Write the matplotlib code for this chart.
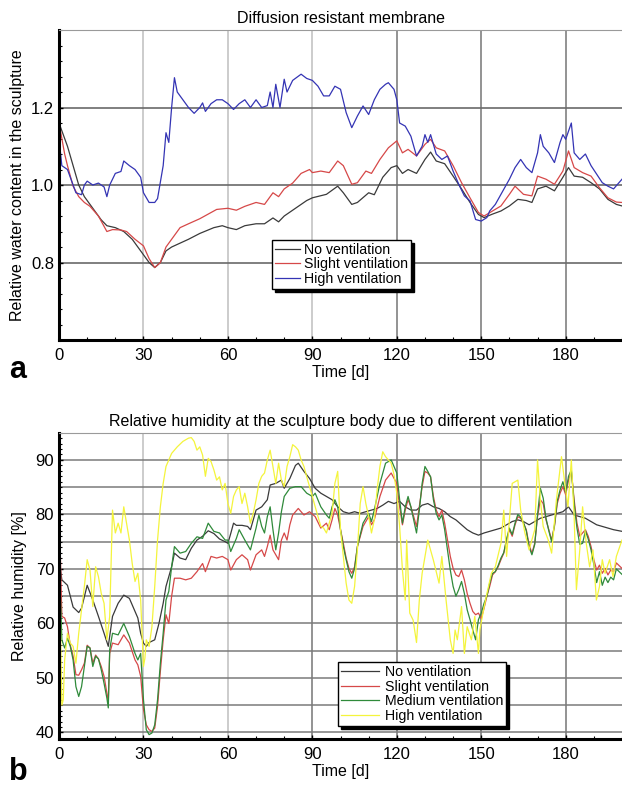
import numpy as np
import matplotlib
matplotlib.use('Agg')
import matplotlib.pyplot as plt
from matplotlib.ticker import MultipleLocator

plt.rcParams['font.family'] = ['Liberation Sans', 'DejaVu Sans']

# ---------------- panel a: relative water content ----------------
a_no_days = [0, 1.5, 3, 5, 7, 9, 12, 15, 17, 20, 23, 26, 29, 32, 34, 36, 38, 40, 43, 46, 50, 55, 58,
             60, 63, 66, 70, 73, 76, 78, 80, 83, 86, 88, 90, 95, 99, 101, 104, 106, 110, 112, 115,
             118, 120, 122, 124, 127, 130, 132, 134, 137, 140, 143, 146, 149, 151, 154, 157, 160,
             163, 166, 168, 170, 173, 176, 179, 181, 183, 186, 189, 192, 195, 198, 200]
a_no_vals = [1.16, 1.13, 1.10, 1.05, 1.00, 0.97, 0.94, 0.91, 0.895, 0.89, 0.88, 0.86, 0.83, 0.80,
             0.787, 0.80, 0.83, 0.84, 0.85, 0.86, 0.875, 0.89, 0.895, 0.89, 0.885, 0.895, 0.90,
             0.90, 0.915, 0.905, 0.92, 0.935, 0.95, 0.96, 0.967, 0.976, 0.997, 0.98, 0.95, 0.955,
             0.98, 0.975, 1.02, 1.045, 1.05, 1.03, 1.04, 1.03, 1.066, 1.085, 1.062, 1.055, 1.023,
             0.99, 0.955, 0.924, 0.916, 0.925, 0.933, 0.946, 0.963, 0.96, 0.955, 0.99, 0.997,
             0.985, 1.02, 1.045, 1.023, 1.02, 1.006, 0.99, 0.963, 0.95, 0.946]

a_slight_days = [0, 2, 3, 5, 7, 9, 11, 14, 17, 19, 22, 24, 27, 30, 32, 34, 36, 38, 40, 43, 46, 50,
                 53, 56, 60, 63, 66, 70, 73, 76, 78, 80, 83, 86, 89, 90, 93, 96, 99, 101, 104, 106,
                 109, 111, 114, 117, 120, 122, 124, 127, 130, 132, 134, 137, 140, 143, 146, 149,
                 151, 154, 157, 160, 162, 165, 168, 170, 173, 176, 179, 181, 183, 186, 189, 192,
                 195, 198, 200]
a_slight_vals = [1.16, 1.08, 1.05, 0.997, 0.97, 0.955, 0.945, 0.92, 0.88, 0.885, 0.884, 0.88, 0.86,
                 0.843, 0.81, 0.787, 0.80, 0.84, 0.86, 0.89, 0.90, 0.913, 0.925, 0.937, 0.94,
                 0.935, 0.945, 0.955, 0.95, 0.98, 0.97, 0.99, 1.005, 1.03, 1.04, 1.032, 1.036,
                 1.032, 1.062, 1.05, 1.002, 1.006, 1.036, 1.03, 1.066, 1.096, 1.114, 1.083, 1.092,
                 1.075, 1.105, 1.118, 1.096, 1.088, 1.05, 1.006, 0.967, 0.929, 0.92, 0.933, 0.946,
                 0.976, 0.997, 0.976, 0.972, 1.023, 1.015, 1.002, 1.036, 1.088, 1.045, 1.032,
                 1.023, 0.993, 0.967, 0.956, 0.955]

a_high_days = [0, 1, 3, 4, 6, 8, 9, 10, 12, 14, 16, 17, 18, 20, 22, 23, 25, 27, 29, 30, 32, 34, 35,
               37, 38, 39, 40, 41, 42, 44, 46, 48, 50, 51, 52, 54, 56, 58, 60, 62, 64, 66, 68, 70,
               72, 74, 75, 76, 77, 78.5, 80, 81, 83, 86, 88, 90, 92, 94, 96, 98, 100, 102, 104,
               106, 108, 110, 112, 114, 116, 117, 119, 120, 121, 123, 125, 127, 129, 130, 131,
               132, 134, 136, 138, 140, 142, 144, 146, 148, 150, 152, 153, 155, 157, 159, 160,
               162, 164, 166, 168, 170, 171, 172, 174, 176, 178, 179, 180, 182, 183, 185, 187,
               189, 191, 193, 195, 197, 200]
a_high_vals = [1.12, 1.05, 1.04, 1.02, 0.98, 0.975, 1.0, 1.01, 1.0, 1.005, 0.995, 0.97, 1.0, 1.03,
               1.035, 1.062, 1.05, 1.04, 1.02, 0.98, 0.955, 0.955, 0.965, 1.05, 1.135, 1.11, 1.2,
               1.277, 1.24, 1.22, 1.2, 1.185, 1.2, 1.212, 1.19, 1.21, 1.22, 1.22, 1.21, 1.195,
               1.21, 1.22, 1.2, 1.22, 1.2, 1.205, 1.24, 1.2, 1.26, 1.2, 1.273, 1.24, 1.27, 1.286,
               1.275, 1.27, 1.255, 1.23, 1.23, 1.255, 1.247, 1.187, 1.148, 1.178, 1.204, 1.182,
               1.22, 1.247, 1.26, 1.264, 1.247, 1.22, 1.16, 1.152, 1.126, 1.075, 1.1, 1.13, 1.11,
               1.13, 1.08, 1.066, 1.075, 1.036, 1.002, 0.972, 0.959, 0.911, 0.907, 0.916, 0.933,
               0.95, 0.976, 1.002, 1.015, 1.045, 1.066, 1.045, 1.032, 1.083, 1.13, 1.1, 1.083,
               1.058, 1.11, 1.13, 1.118, 1.16, 1.083, 1.066, 1.08, 1.05, 1.028, 1.006, 0.997,
               0.99, 1.015]

# ---------------- panel b: relative humidity ----------------
b_no_days = [0, 0.5, 1, 3, 5, 7, 8, 10, 12, 14, 16, 17.5, 19, 21, 23, 25, 27, 28, 29, 30, 31, 32,
             34, 35.5, 37, 38, 40, 41, 43, 45, 47, 49, 51, 53, 55, 57, 59, 60, 61, 62, 63, 65, 67,
             68, 70, 72, 74, 75, 77, 79, 80, 82, 84, 85, 87, 89, 91, 93, 95, 97, 99, 101, 103,
             105, 107, 109, 111, 113, 115, 117, 119, 121, 123, 125, 127, 129, 131, 133, 135, 137,
             139, 141, 143, 145, 147, 149, 151, 153, 155, 157, 159, 161, 163, 165, 167, 169, 171,
             173, 175, 177, 179, 181, 183, 185, 187, 189, 191, 193, 195, 197, 200]
b_no_vals = [75, 70, 68, 67, 63, 62, 62.8, 67, 64.3, 61.3, 58.2, 55.8, 61.3, 63.7, 65.2, 64.6, 62.2,
             61, 58.2, 56.4, 55.8, 56.5, 57, 60, 63.7, 66.8, 70.4, 72.9, 72, 71.7, 73.8, 75.3, 76,
             77, 76.5, 75.5, 75, 74.7, 76.5, 78.4, 78, 78, 77.8, 77.2, 80.8, 81.4, 82.7, 85.4,
             85.7, 86.3, 84.8, 86.6, 89, 89.4, 87.9, 86.6, 84.8, 83.9, 83.3, 82.7, 81.4, 80.5,
             80.2, 80.5, 80.2, 80.5, 80.8, 81.1, 81.7, 82.4, 82, 82.4, 81.4, 80.8, 80.8, 81.7, 82,
             81.4, 81.1, 80.5, 79.6, 79, 78.1, 77.2, 76.6, 76.2, 76.6, 76.9, 77.2, 77.5, 78.1,
             78.7, 79, 78.7, 78.1, 78.7, 79.3, 79.6, 79.9, 80.2, 80.5, 81.4, 79.9, 79.6, 79.3,
             78.7, 78.1, 77.8, 77.5, 77.2, 76.9]

b_slight_days = [0, 0.5, 1, 2, 3, 4, 5, 6, 7, 8, 9, 10, 11, 12, 13, 14, 15, 16, 17, 17.5, 18, 19, 21,
                 23, 25, 27, 28, 29, 30, 31, 32, 33, 34, 35, 36, 37, 38, 39, 40, 41, 43, 45, 47, 49,
                 51, 52, 54, 56, 58, 60, 61, 63, 65, 67, 68, 70, 72, 73, 74, 75, 76, 78, 79, 80, 81,
                 82, 83, 85, 87, 89, 91, 93, 95, 96, 97, 98, 99, 100, 101, 102, 103, 104, 105, 106,
                 108, 110, 111, 112, 114, 116, 118, 120, 121, 122, 123, 124, 125, 126, 127, 128,
                 129, 130, 131, 132, 133, 134, 135, 136, 137, 138, 139, 140, 141, 142, 143, 144,
                 145, 146, 147, 148, 149, 150, 151, 152, 153, 154, 155, 156, 157, 158, 159, 160,
                 161, 162, 163, 164, 165, 166, 167, 168, 169, 170, 171, 172, 173, 174, 175, 176,
                 177, 178, 179, 180, 181, 182, 183, 184, 185, 186, 187, 188, 189, 190, 191, 192,
                 193, 194, 195, 196, 197, 198, 200]
b_slight_vals = [77, 72, 61.3, 61, 59.4, 56, 54, 50.6, 50.5, 51.5, 52.7, 56, 55.5, 52.7, 54.2,
                 53.5, 52.1, 50.3, 47.2, 45.7, 54.5, 56.4, 56.1, 57.9, 56.4, 53.3, 52.4, 50.3,
                 44.2, 41.4, 40.5, 40.2, 40.8, 44.8, 51.2, 57, 61.6, 60, 65, 68.3, 68.3, 68, 68.3,
                 69.5, 71, 69.5, 72.3, 72, 72.3, 71.7, 69.8, 71.7, 72.6, 71.7, 69.8, 72.6, 73.5,
                 72.3, 74.1, 76.2, 73.5, 71.7, 75.3, 76.6, 75.3, 78.1, 79.9, 81.1, 79.9, 80.5,
                 79.6, 77.5, 78.4, 77.2, 79, 81.1, 79.9, 77.2, 74.7, 72, 70.1, 69.2, 70.4, 74.1,
                 77.8, 79.6, 78.1, 79, 83.3, 86.3, 87.6, 85.7, 81.4, 78.1, 80.8, 82.7, 81.4, 79.6,
                 77.8, 81.4, 85.1, 87.9, 87.6, 86.9, 83.3, 80.8, 79.6, 80.8, 78.4, 75.3, 72.3,
                 70.1, 68.9, 68.6, 69.8, 68, 65.5, 63.7, 62.2, 61.6, 61.9, 60.9, 62.8, 65, 66.8,
                 68.9, 69.5, 70.4, 71.7, 72.9, 75.3, 77.2, 76, 78.1, 79.6, 79.3, 78.4, 77.2, 74.4,
                 72.9, 74.7, 79.6, 82.7, 82, 79, 77.2, 75.3, 77.8, 82, 83.9, 85.1, 83.6, 86.3,
                 87.9, 82.7, 78.4, 76, 76.6, 77.2, 76, 74.1, 71.7, 69.8, 70.7, 69.2, 70.1, 68.9,
                 69.8, 69.5, 71.1, 70.1]

b_medium_days = [0, 0.5, 1, 2, 3, 4, 5, 6, 7, 8, 9, 10, 11, 12, 13, 14, 15, 16, 17, 17.5, 18, 19, 21,
                 23, 25, 27, 28, 29, 30, 31, 32, 33, 34, 35, 36, 37, 38, 39, 40, 41, 43, 45, 47, 49,
                 51, 53, 55, 57, 59, 60, 61, 63, 64, 66, 68, 70, 71, 72, 73, 74, 75, 76, 77, 78, 79,
                 80, 82, 84, 86, 88, 90, 91, 93, 95, 96, 97, 98, 99, 100, 101, 102, 103, 104, 105,
                 106, 108, 110, 111, 112, 114, 116, 118, 120, 121, 122, 123, 124, 125, 126, 127,
                 128, 129, 130, 131, 132, 133, 134, 135, 136, 137, 138, 139, 140, 141, 142, 143,
                 144, 145, 146, 147, 148, 149, 150, 151, 152, 153, 154, 155, 156, 157, 158, 159,
                 160, 161, 162, 163, 164, 165, 166, 167, 168, 169, 170, 171, 172, 173, 174, 175,
                 176, 177, 178, 179, 180, 181, 182, 183, 184, 185, 186, 187, 188, 189, 190, 191,
                 192, 193, 194, 195, 196, 197, 198, 200]
b_medium_vals = [75, 65, 57, 55.5, 57.3, 55.8, 53.3, 48.4, 46.6, 48.4, 52.1, 55.8, 55.5, 52.1, 54,
                 53.5, 51.5, 49, 46.3, 44.5, 55.2, 58.2, 57.9, 60, 57.6, 54.5, 53.3, 54.5, 46, 40.5,
                 39.6, 39.9, 41.4, 46, 52.7, 58.2, 64.3, 65.9, 70.4, 74.1, 72.9, 73.2, 74.7, 75.9,
                 75.6, 78.4, 76.9, 76.6, 75.3, 75.3, 73.2, 75.6, 77.2, 75.3, 73.5, 77.5, 79.9,
                 77.8, 76.6, 79.6, 81.4, 77.2, 73.5, 76.6, 80.5, 83.3, 84.8, 85.1, 85.1, 83.9,
                 83.3, 83.9, 81.4, 79.9, 79.3, 81.4, 82.7, 81.4, 77.2, 74.1, 71.7, 69.5, 68.3,
                 70.1, 74.1, 78.4, 80.2, 78.7, 80.8, 85.7, 89.4, 90, 87.6, 82.7, 78.4, 81.4, 83.3,
                 81.4, 79, 76.6, 80.8, 85.7, 88.8, 87.9, 86.9, 82.7, 80.2, 79, 79.9, 77.2, 73.5,
                 69.8, 66.8, 65, 66.2, 67.7, 65.5, 62.5, 60.7, 58.8, 57, 60.7, 61.9, 63.7, 65,
                 67.4, 69.2, 69.5, 70.6, 72, 73, 75.5, 77.5, 76.3, 78.4, 80, 79.5, 78.5, 77, 74,
                 72.6, 74.5, 80, 84.8, 83, 79.3, 77, 75, 78, 82.5, 84.5, 86, 84, 87, 88.2, 82,
                 77.5, 74.5, 74.7, 77, 75.5, 73.5, 70.8, 67.5, 69.5, 67, 68.5, 67.5, 68.5, 68, 70,
                 69]

b_high_days = [0, 0.5, 1, 1.5, 2, 3, 4, 5, 6, 7, 8, 9, 10, 11, 12, 13, 14, 15, 16, 17, 18, 19, 20,
               21, 22, 23, 24, 25, 26, 27, 28, 29, 30, 30.5, 31, 32, 33, 34, 35, 36, 37, 38, 40, 42,
               44, 46, 47, 48, 49, 50, 51, 52, 53, 54, 55, 56, 57, 58, 59, 60, 61, 62, 63, 64, 65,
               66, 67, 68, 69, 70, 71, 72, 73, 74, 75, 76, 77, 78, 79, 80, 81, 82, 83, 84, 85, 86,
               87, 88, 89, 90, 91, 92, 93, 94, 95, 96, 97, 98, 99, 100, 101, 102, 103, 104, 105,
               106, 107, 108, 109, 110, 111, 112, 113, 114, 115, 116, 117, 118, 119, 120, 121,
               122, 123, 123.5, 124.6, 125.8, 127, 128, 129, 131, 133, 135, 136, 137.5, 139, 140,
               140.7, 141.5, 143, 144, 145, 146.5, 147.7, 149, 149.5, 150.6, 151.8, 153.6, 155,
               157, 158, 159, 161, 163, 164, 165.5, 167, 169, 170, 171, 172, 173.8, 175, 176.7,
               178.5, 179.7, 180.8, 182, 183, 183.8, 185, 186, 187.3, 188.5, 189.7, 190.9, 192,
               193, 194, 195.6, 196.8, 198, 200]
b_high_vals = [73, 60, 45, 46, 53.3, 58.2, 56.4, 55.8, 52.7, 58.2, 62.5, 66.8, 71.7, 69.8, 63.1,
               70.4, 68.6, 65.5, 63.7, 57, 61.3, 80.8, 76.6, 78.4, 76.6, 81.4, 78.4, 75.3, 71,
               67.7, 69.2, 64.3, 52.1, 53.6, 57, 55.8, 59.4, 66.8, 75.3, 81.4, 85.7, 88.8, 91.2,
               92.4, 93.4, 94, 94.1, 93.4, 91.8, 92.4, 90.9, 87, 90.3, 89.7, 88.2, 86.3, 86.9,
               84.5, 85.7, 82, 80.2, 83.3, 84.5, 85.1, 82, 83.9, 81.4, 78.4, 80.2, 82.7, 85.7, 87,
               87.6, 90, 91.8, 88.8, 85.7, 89.4, 86.3, 85.1, 88.8, 90.6, 92.8, 92.4, 91.8, 90,
               88.8, 86.9, 85.1, 83.3, 81.4, 79.6, 77.8, 77.5, 76.6, 78.4, 80.2, 85.7, 87.9, 77.2,
               72.3, 67.4, 64.3, 63.7, 66.8, 73.5, 82, 85.1, 82, 79.6, 76.6, 79, 84.5, 88.8, 91.5,
               90.6, 90, 89.4, 87.3, 83.9, 77.8, 69.8, 64.3, 75.3, 61.9, 60.6, 56.5, 64.3, 69.2,
               75.3, 71.6, 67.4, 72.3, 64.3, 57, 54.5, 58.8, 57, 63.1, 54.5, 59.4, 57, 61.3, 54.5,
               58.8, 61.9, 65, 69.2, 70.4, 74.7, 80.8, 72.3, 85.7, 86.3, 80.8, 76.6, 73.5, 77.2,
               90, 82.7, 77.8, 75.3, 72.9, 82.7, 90.6, 85.7, 81.4, 90, 79.6, 66.2, 73.5, 81.4,
               74.7, 70.4, 73.5, 64.3, 66.8, 71.7, 69.2, 71.7, 68.6, 72.3, 75.3]

c_no = '#3a3a3a'
c_slight = '#d64848'
c_medium = '#2f8a3a'
c_high_a = '#3434b4'
c_high_b = '#f4f43c'

fig = plt.figure(figsize=(6.22, 7.88), dpi=100)
ax_a = fig.add_axes([0.0949, 0.5685, 0.9051, 0.3934])
ax_b = fig.add_axes([0.0949, 0.0622, 0.9051, 0.3887])


def style_axes(ax, light_days):
    # light vertical lines for some days, darker for the others
    for d in [30, 60, 90, 120, 150, 180]:
        col = '#c4c4c4' if d in light_days else '#808080'
        ax.axvline(d, color=col, lw=1.2, zorder=0)
    ax.set_xlim(0, 200)
    ax.set_xticks([0, 30, 60, 90, 120, 150, 180])
    ax.xaxis.set_minor_locator(MultipleLocator(10))
    ax.tick_params(axis='both', which='major', labelsize=12, direction='in', length=3, width=1)
    ax.tick_params(axis='both', which='minor', direction='in', length=2, width=0.8)
    ax.tick_params(axis='x', pad=6)
    ax.spines['right'].set_visible(False)
    ax.spines['top'].set_color('#9a9a9a')
    ax.spines['left'].set_linewidth(2.2)
    ax.spines['bottom'].set_linewidth(2.2)
    ax.set_xlabel('Time [d]', fontsize=11.5, labelpad=1)


# panel a
style_axes(ax_a, [30, 60, 90])
for v in [0.8, 1.0, 1.2]:
    ax_a.axhline(v, color='#6a6a6a', lw=1.2, zorder=0)
ax_a.plot(a_no_days, a_no_vals, color=c_no, lw=0.9, label='No ventilation')
ax_a.plot(a_slight_days, a_slight_vals, color=c_slight, lw=0.9, label='Slight ventilation')
ax_a.plot(a_high_days, a_high_vals, color=c_high_a, lw=0.9, label='High ventilation')
ax_a.set_ylim(0.6, 1.4)
ax_a.set_yticks([0.8, 1.0, 1.2])
ax_a.set_yticklabels(['0.8', '1.0', '1.2'])
ax_a.yaxis.set_minor_locator(MultipleLocator(0.04))
ax_a.set_ylabel('Relative water content in the sculpture', fontsize=11.5, labelpad=4)
ax_a.set_title('Diffusion resistant membrane', fontsize=11.5, pad=5)
leg = ax_a.legend(loc='upper left', bbox_to_anchor=(0.378, 0.323), borderaxespad=0,
                  fontsize=10.2, handlelength=1.8, handletextpad=0.3, labelspacing=0.05,
                  borderpad=0.2, fancybox=False, framealpha=1,
                  shadow={'color': 'black', 'alpha': 1})
leg.get_frame().set_edgecolor('black')
leg.get_frame().set_linewidth(1.0)

# panel b
style_axes(ax_b, [30, 60])
for v in range(40, 95, 5):
    ax_b.axhline(v, color='#7a7a7a', lw=1.1, zorder=0)
ax_b.plot(b_no_days, b_no_vals, color=c_no, lw=0.9, label='No ventilation')
ax_b.plot(b_slight_days, b_slight_vals, color=c_slight, lw=0.9, label='Slight ventilation')
ax_b.plot(b_medium_days, b_medium_vals, color=c_medium, lw=0.9, label='Medium ventilation')
ax_b.plot(b_high_days, b_high_vals, color=c_high_b, lw=0.9, label='High ventilation')
ax_b.set_ylim(38.8, 95.0)
ax_b.set_yticks([40, 50, 60, 70, 80, 90])
ax_b.yaxis.set_minor_locator(MultipleLocator(1))
ax_b.set_ylabel('Relative humidity [%]', fontsize=11.5, labelpad=6)
ax_b.set_title('Relative humidity at the sculpture body due to different ventilation',
               fontsize=11.5, pad=5)
leg = ax_b.legend(loc='upper left', bbox_to_anchor=(0.4956, 0.2514), borderaxespad=0,
                  fontsize=10.2, handlelength=2.7, handletextpad=0.4, labelspacing=0.05,
                  borderpad=0.2, fancybox=False, framealpha=1,
                  shadow={'color': 'black', 'alpha': 1})
leg.get_frame().set_edgecolor('black')
leg.get_frame().set_linewidth(1.0)

# panel letters
fig.text(0.029, 1 - 378 / 788, 'a', fontsize=22, fontweight='bold', ha='center', va='baseline')
fig.text(0.029, 1 - 780 / 788, 'b', fontsize=22, fontweight='bold', ha='center', va='baseline')

fig.savefig('out.png', dpi=100)
